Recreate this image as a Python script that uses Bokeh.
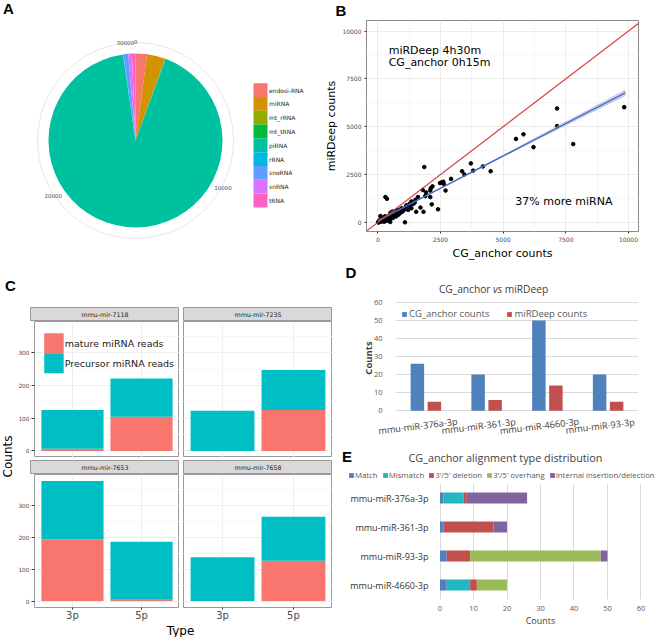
import numpy as np
from bokeh.plotting import figure
from bokeh.models import (Range1d, FactorRange, ColumnDataSource, FixedTicker, Slope, Spacer, Label)
from bokeh.layouts import row, column
from bokeh.transform import dodge
from bokeh.core.properties import value
from bokeh.embed import file_html
from bokeh.resources import INLINE

# ---------------- DATA ----------------
# A: pie of small RNA classes
pie_types = ["endosi-RNA", "miRNA", "mt_rRNA", "mt_tRNA", "piRNA", "rRNA", "snoRNA", "snRNA", "tRNA"]
pie_counts = [650, 1030, 20, 15, 28080, 25, 270, 210, 200]
pie_colors = ["#F8766D", "#D39200", "#93AA00", "#00BA38", "#00C19F", "#00B9E3", "#619CFF", "#DB72FB", "#FF61C3"]
pie_ticks = [0, 10000, 20000, 30000]

# B: scatter CG_anchor vs miRDeep
scatter_cg = [9830, 7150, 7150, 7795, 5810, 5510, 6210, 4500, 4190, 3710,
              3800, 3360, 3450, 2920, 2610, 2540, 2480, 2630, 2700, 2400,
              1850, 2180, 2090, 2110, 1920, 1890, 2090, 2150, 1790, 1600,
              1500, 1340, 1700, 1530, 1820, 1270, 1140, 1010, 1080, 300,
              360, 750, 880, 490, 100,
              104, 169, 233, 259, 337, 389, 428, 467, 493, 558,
              597, 623, 687, 726, 752, 817, 856, 882, 947, 986,
              1038, 1115, 1206, 1271, 1336, 1401, 1466,
              20, 40, 60, 80, 120, 150, 180, 200, 220, 260,
              300, 320, 350, 380, 400, 420, 450, 480, 520, 550,
              600, 640, 700, 50, 90, 140, 240, 280, 30, 10,
              500, 580, 620, 660, 430]
scatter_mird = [6020, 5950, 5030, 4090, 4600, 4360, 3930, 2670, 2920, 3080,
                2700, 2670, 2500, 2270, 2120, 2090, 2050, 2000, 1660, 680,
                2890, 1880, 1660, 1780, 1560, 1370, 1320, 940, 1690, 1320,
                1180, 1090, 770, 550, 550, 970, 890, 630, 0, 1320,
                1230, 630, 580, 17, 325,
                51, 103, 137, 34, 222, 171, 274, 103, 342, 393,
                222, 479, 513, 308, 564, 393, 650, 479, 735, 564,
                650, 821, 650, 855, 735, 958, 1026,
                10, 30, 20, 60, 90, 40, 120, 150, 60, 200,
                180, 90, 260, 300, 240, 80, 350, 200, 300, 420,
                380, 560, 450, 80, 140, 200, 280, 310, 0, 5,
                500, 560, 300, 520, 150]
fit_x = [0, 2000, 4000, 6000, 8000, 9880]
fit_y = [85, 1439, 2793, 4147, 5501, 6774]
fit_lo = [25, 1404, 2748, 4062, 5376, 6609]
fit_hi = [145, 1474, 2838, 4232, 5626, 6939]
b_ticks = [0, 2500, 5000, 7500, 10000]
b_minor = [-1250, 1250, 3750, 6250, 8750]

# C: faceted stacked bars
c_mirs = ["mmu-mir-7118", "mmu-mir-7235", "mmu-mir-7653", "mmu-mir-7658"]
c_types = ["3p", "5p"]
c_mature = {"mmu-mir-7118": [7, 105], "mmu-mir-7235": [0, 125],
            "mmu-mir-7653": [193, 4], "mmu-mir-7658": [0, 126]}
c_precursor = {"mmu-mir-7118": [118, 117], "mmu-mir-7235": [123, 123],
               "mmu-mir-7653": [183, 182], "mmu-mir-7658": [137, 138]}
c_series = ["mature miRNA reads", "Precursor miRNA reads"]
c_colors = ["#F8766D", "#00BFC4"]
c_ticks = [0, 100, 200, 300]
c_minor = [50, 150, 250, 350]

# D: clustered bars
d_mirs = ["mmu-miR-376a-3p", "mmu-miR-361-3p", "mmu-miR-4660-3p", "mmu-miR-93-3p"]
d_cg = [26, 20, 50, 20]
d_mird = [5, 6, 14, 5]
d_series = ["CG_anchor counts", "miRDeep counts"]
d_colors = ["#4F81BD", "#C0504D"]
d_ticks = [0, 10, 20, 30, 40, 50, 60]

# E: stacked horizontal bars
e_mirs = ["mmu-miR-376a-3p", "mmu-miR-361-3p", "mmu-miR-93-3p", "mmu-miR-4660-3p"]
e_types = ["Match", "Mismatch", "3'/5' deletion", "3'/5' overhang", "Internal insertion/delection"]
e_match = [1, 1, 2, 2]
e_mismatch = [6, 0, 0, 7]
e_deletion = [1, 15, 7, 2]
e_overhang = [0, 0, 39, 9]
e_indel = [18, 4, 2, 0]
e_colors = ["#4F81BD", "#23B7C2", "#C0504D", "#9BBB59", "#8064A2"]
e_ticks = [0, 10, 20, 30, 40, 50, 60]

GG = "DejaVu Sans"
XL = "Open Sans"
LET = "Liberation Sans"


def fig(w, h, **kw):
    p = figure(width=w, height=h, tools="", toolbar_location=None, output_backend="svg", **kw)
    p.background_fill_color = "white"
    p.border_fill_color = "white"
    return p


def blank(w, h, **kw):
    kw.setdefault("min_border", 0)
    p = fig(w, h, x_range=Range1d(0, w), y_range=Range1d(0, h), x_axis_type=None,
            y_axis_type=None, **kw)
    p.outline_line_color = None
    return p


def letter(p, x, y, t):
    p.text(x=[x], y=[y], text=[t], text_align="center", text_baseline="middle",
           text_font=value(LET), text_font_style="bold", text_font_size="15px", text_color="black")


def W(x):
    return column(x)


# ---------------- A ----------------
pA = blank(322, 262)
cx, cy, R = 135, 122, 87
vals = np.array(pie_counts, float)
total = vals.sum()
cum = np.concatenate([[0], np.cumsum(vals)])
srcA = ColumnDataSource(dict(start=np.pi / 2 - 2 * np.pi * cum[:-1] / total,
                             end=np.pi / 2 - 2 * np.pi * cum[1:] / total,
                             color=pie_colors, name=pie_types))
pA.circle(x=[cx], y=[cy], radius=98, fill_color=None, line_color="#F1E4E4", line_width=1)
pA.wedge(x=cx, y=cy, radius=R, start_angle="start", end_angle="end", direction="clock",
         fill_color="color", line_color=None, source=srcA)
th = np.pi / 2 - 2 * np.pi * np.array(pie_ticks) / total
pA.text(x=cx + 99 * np.cos(th), y=cy + 99 * np.sin(th), text=[str(t) for t in pie_ticks],
        text_align="center", text_baseline="middle", text_font_size="5.5px", text_color="#4D4D4D",
        text_font=value(GG))
key_h = 13.8
top0 = 262 - 82.7
ky = [top0 - key_h * (i + 0.5) for i in range(len(pie_types))]
pA.rect(x=260, y=ky, width=14, height=key_h, fill_color=pie_colors, line_color=None)
pA.text(x=268.5, y=ky, text=pie_types, text_align="left", text_baseline="middle",
        text_font_size="6px", text_color="#1A1A1A", text_font=value(GG))
letter(pA, 8, 253.7, "A")

# ---------------- B ----------------
bHeader = blank(344, 19)
letter(bHeader, 18.5, 9.5, "B")
pB = fig(344, 243, x_range=Range1d(-455, 10400), y_range=Range1d(-480, 10550),
         min_border_left=37, min_border_right=28, min_border_top=1, min_border_bottom=27)
pB.outline_line_color = "#8A8A8A"
for ax in (pB.xaxis[0], pB.yaxis[0]):
    ax.ticker = FixedTicker(ticks=b_ticks, minor_ticks=b_minor)
    ax.axis_line_color = None
    ax.major_tick_line_color = "#333333"
    ax.major_tick_out = 2
    ax.major_tick_in = 0
    ax.minor_tick_line_color = None
    ax.major_label_text_font_size = "6px"
    ax.major_label_text_color = "#4D4D4D"
    ax.major_label_text_font = GG
    ax.major_label_standoff = 1
    ax.axis_label_text_font = GG
    ax.axis_label_text_font_size = "11px"
    ax.axis_label_text_font_style = "normal"
    ax.axis_label_text_color = "black"
pB.xaxis.axis_label = "CG_anchor counts"
pB.yaxis.axis_label = "miRDeep counts"
pB.xaxis.axis_label_standoff = 2
pB.yaxis.axis_label_standoff = 1
for g in (pB.xgrid[0], pB.ygrid[0]):
    g.grid_line_color = "#EBEBEB"
    g.minor_grid_line_color = "#F5F5F5"
pB.scatter(scatter_cg, scatter_mird, size=3.6, color="black")
pB.varea(x=fit_x, y1=fit_lo, y2=fit_hi, fill_color="#9FAED4", fill_alpha=0.6)
pB.line(fit_x, fit_y, line_color="#3A5FC6", line_width=1.2)
pB.add_layout(Slope(gradient=1, y_intercept=0, line_color="#D43D3D", line_width=1.2))
for t, yy in (("miRDeep 4h30m", 9000), ("CG_anchor 0h15m", 8330)):
    pB.add_layout(Label(x=430, y=yy, text=t, text_align="left", text_baseline="middle",
                        text_font=GG, text_font_size="11px", text_color="black"))
pB.add_layout(Label(x=5485, y=1113, text="37% more miRNA", text_align="left",
                    text_baseline="middle", text_font=GG, text_font_size="11px", text_color="black"))

# ---------------- C ----------------
cHeader = blank(333, 45)
letter(cHeader, 10, 22, "C")
cLeft = blank(15, 316)
cLeft.text(x=[7.5], y=[167], text=["Counts"], angle=np.pi / 2, text_align="center",
           text_baseline="middle", text_font_size="12px", text_color="black",
           text_font=value(GG))
cFooter = blank(333, 14)
cFooter.text(x=[180], y=[7], text=["Type"], text_align="center", text_baseline="middle",
             text_font_size="12px", text_color="black", text_font=value(GG))

C_PAD = 0.05
c_xr = FactorRange(factors=c_types, range_padding=C_PAD)
C_Y0, C_Y1 = -20, 396
c_yr = Range1d(C_Y0, C_Y1)
FW, FH = 149, 136
LB = 15
# pixel -> data conversions inside a facet frame (used only to place the legend keys)
c_x_span = len(c_types) * (1 + C_PAD)
c_ux = c_x_span / FW
c_uy = (C_Y1 - C_Y0) / FH


def strip(name, top=0):
    s = fig(FW, 14 + top, x_range=Range1d(0, 1), y_range=Range1d(0, 1), x_axis_type=None,
            y_axis_type=None, min_border=0, min_border_top=top)
    s.background_fill_color = "#D9D9D9"
    s.outline_line_color = "#9A9A9A"
    s.text(x=[0.5], y=[0.5], text=[name], text_align="center", text_baseline="middle",
           text_font_size="6.3px", text_color="#1A1A1A", text_font=value(GG))
    return s


def panel(mir, left, bottom, legend=False):
    w = FW + (LB if left else 0)
    h = FH + (13 if bottom else 0)
    p = fig(w, h, x_range=c_xr, y_range=c_yr, min_border_left=LB if left else 0,
            min_border_bottom=13 if bottom else 0, min_border_top=0, min_border_right=0,
            x_axis_location="below" if bottom else None, y_axis_location="left" if left else None)
    p.outline_line_color = "#9A9A9A"
    p.ygrid.ticker = FixedTicker(ticks=c_ticks, minor_ticks=c_minor)
    p.ygrid.grid_line_color = "#EEEEEE"
    p.ygrid.minor_grid_line_color = "#F7F7F7"
    p.xgrid.grid_line_color = "#EEEEEE"
    for ax in p.axis:
        ax.axis_line_color = None
        ax.major_tick_line_color = "#333333"
        ax.major_tick_out = 3
        ax.major_tick_in = 0
        ax.minor_tick_line_color = None
        ax.major_label_text_color = "#4D4D4D"
        ax.major_label_text_font = GG
        ax.major_label_standoff = 1
    if left:
        p.yaxis.ticker = FixedTicker(ticks=c_ticks, minor_ticks=c_minor)
        p.yaxis.major_label_text_font_size = "5.8px"
    if bottom:
        p.xaxis.major_label_text_font_size = "10px"
        p.xaxis.major_tick_out = 2
        p.xaxis.major_label_standoff = 0
    src = ColumnDataSource(dict(type=c_types, mature=c_mature[mir], precursor=c_precursor[mir]))
    p.vbar_stack(["mature", "precursor"], x="type", width=0.9, fill_color=c_colors,
                 line_color=None, source=src)
    if legend:
        # legend keys 20px square, 10px from the frame's left, 11.7px below its top
        x_first = c_xr.factors[0]
        first_center_px = FW * (C_PAD + 0.5) / c_x_span
        key_off = (20 - first_center_px) * c_ux
        txt_off = (31 - first_center_px) * c_ux
        ly = [C_Y0 + (FH - 11.7 - 20 * (i + 0.5)) * c_uy for i in range(len(c_series))]
        lsrc = ColumnDataSource(dict(f=[x_first] * len(c_series), y=ly, lab=c_series,
                                     col=c_colors))
        p.rect(x=dodge("f", key_off, range=c_xr), y="y", width=20 * c_ux, height=20 * c_uy,
               fill_color="col", line_color=None, source=lsrc)
        p.text(x=dodge("f", txt_off, range=c_xr), y="y", text="lab", text_align="left",
               text_baseline="middle", text_font=value(GG), text_font_size="9.5px",
               text_color="#1A1A1A", source=lsrc)
    return p


sA1, sA2 = strip(c_mirs[0]), strip(c_mirs[1])
sB1, sB2 = strip(c_mirs[2], top=3), strip(c_mirs[3], top=3)
p1 = panel(c_mirs[0], True, False, legend=True)
p2 = panel(c_mirs[1], False, False)
p3 = panel(c_mirs[2], True, True)
p4 = panel(c_mirs[3], False, True)
cgrid = column(
    row(Spacer(width=LB, height=14), W(sA1), Spacer(width=4, height=14), W(sA2)),
    row(W(p1), Spacer(width=4, height=FH), W(p2)),
    row(Spacer(width=LB, height=17), W(sB1), Spacer(width=4, height=17), W(sB2)),
    row(W(p3), Spacer(width=4, height=FH + 13), W(p4)),
)
C = column(W(cHeader), row(W(cLeft), cgrid), W(cFooter))

# ---------------- D ----------------
dHeader = blank(333, 34)
letter(dHeader, 17.5, 24.3, "D")
for t, xx, al, st in (("CG_anchor", 157, "right", "normal"), ("vs", 164, "center", "italic"),
                      ("miRDeep", 171.3, "left", "normal")):
    dHeader.text(x=[xx], y=[8], text=[t], text_align=al, text_baseline="middle",
                 text_font=value(XL), text_font_style=st, text_font_size="10.2px",
                 text_color="#404040")

pD = fig(333, 118, x_range=FactorRange(factors=d_mirs), y_range=Range1d(-2.1, 60.5),
         min_border_left=62, min_border_right=28, min_border_top=5, min_border_bottom=0,
         x_axis_location=None)
pD.outline_line_color = None
pD.xgrid.visible = False
pD.ygrid.grid_line_color = "#D9D9D9"
yD = pD.yaxis[0]
yD.ticker = FixedTicker(ticks=d_ticks)
yD.axis_line_color = None
yD.major_tick_line_color = None
yD.minor_tick_line_color = None
yD.major_label_text_font = XL
yD.major_label_text_font_size = "7.5px"
yD.major_label_text_color = "#595959"
yD.major_label_standoff = 7
yD.axis_label = "Counts"
yD.axis_label_text_font = XL
yD.axis_label_text_font_style = "bold"
yD.axis_label_text_font_size = "9.5px"
yD.axis_label_text_color = "#404040"
yD.axis_label_standoff = -4
srcD = ColumnDataSource(dict(mir=d_mirs, cg=d_cg, mird=d_mird))
pD.vbar(x=dodge("mir", -0.14, range=pD.x_range), top="cg", width=0.222, fill_color=d_colors[0],
        line_color=None, source=srcD, legend_label=d_series[0])
pD.vbar(x=dodge("mir", 0.14, range=pD.x_range), top="mird", width=0.222, fill_color=d_colors[1],
        line_color=None, source=srcD, legend_label=d_series[1])
lgD = pD.legend[0]
lgD.orientation = "horizontal"
lgD.location = "top_left"
lgD.margin = 6
lgD.padding = 0
lgD.glyph_width = 6
lgD.glyph_height = 6
lgD.label_height = 8
lgD.label_standoff = 2
lgD.spacing = 17
lgD.background_fill_alpha = 0
lgD.border_line_color = None
lgD.label_text_font = XL
lgD.label_text_font_size = "9.5px"
lgD.label_text_color = "#595959"

dLabels = blank(333, 23)
d_step = 243 / len(d_mirs)
dLabels.text(x=[62 + d_step * (i + 0.5) - 8 for i in range(len(d_mirs))], y=11.5, text=d_mirs,
             angle=0.12, text_align="center", text_baseline="middle", text_font=value(XL),
             text_font_size="9.2px", text_color="#404040")

# ---------------- E ----------------
eTitle = blank(333, 32)
letter(eTitle, 13.5, 13, "E")
eTitle.text(x=[172], y=[12], text=["CG_anchor alignment type distribution"], text_align="center",
            text_baseline="middle", text_font=value(XL), text_font_size="10.8px",
            text_color="#404040")

eLegend = blank(333, 14, min_border_left=12)
for t, c in zip(e_types, e_colors):
    # legend-only renderers: their single bar lies outside the visible range
    eLegend.hbar(y=[-50], left=[0], right=[1], height=0.5, fill_color=c, line_color=None,
                 legend_label=t)
lgE = eLegend.legend[0]
lgE.orientation = "horizontal"
lgE.location = "bottom_left"
lgE.margin = 3
lgE.padding = 0
lgE.glyph_width = 6
lgE.glyph_height = 6
lgE.label_height = 8
lgE.label_standoff = 1
lgE.spacing = 4
lgE.background_fill_alpha = 0
lgE.border_line_color = None
lgE.label_text_font = XL
lgE.label_text_font_size = "7.8px"
lgE.label_text_color = "#595959"

pE = fig(333, 154, x_range=Range1d(-0.15, 60.15), y_range=FactorRange(factors=e_mirs[::-1]),
         min_border_left=106, min_border_right=25, min_border_top=0, min_border_bottom=38)
pE.outline_line_color = None
pE.ygrid.visible = False
pE.xgrid.grid_line_color = "#D9D9D9"
xE = pE.xaxis[0]
xE.ticker = FixedTicker(ticks=e_ticks)
for ax in (xE, pE.yaxis[0]):
    ax.axis_line_color = None
    ax.major_tick_line_color = None
    ax.minor_tick_line_color = None
    ax.major_label_text_font = XL
xE.major_label_text_font_size = "7.5px"
xE.major_label_text_color = "#595959"
xE.major_label_standoff = 0
xE.axis_label = "Counts"
xE.axis_label_text_font = XL
xE.axis_label_text_font_style = "normal"
xE.axis_label_text_font_size = "9px"
xE.axis_label_text_color = "#404040"
xE.axis_label_standoff = 0
yE = pE.yaxis[0]
yE.major_label_text_font_size = "9px"
yE.major_label_text_color = "#333333"
yE.major_label_standoff = 5
srcE = ColumnDataSource(dict(mir=e_mirs, match=e_match, mismatch=e_mismatch, deletion=e_deletion,
                             overhang=e_overhang, indel=e_indel))
pE.hbar_stack(["match", "mismatch", "deletion", "overhang", "indel"], y="mir", height=0.38,
              fill_color=e_colors, line_color=None, source=srcE)

# ---------------- LAYOUT ----------------
top = row(W(pA), column(W(bHeader), W(pB)))
right = column(W(dHeader), W(pD), W(dLabels), W(eTitle), W(eLegend), W(pE))
root = column(top, row(C, right))
open("out.html", "w").write(file_html(root, INLINE))
